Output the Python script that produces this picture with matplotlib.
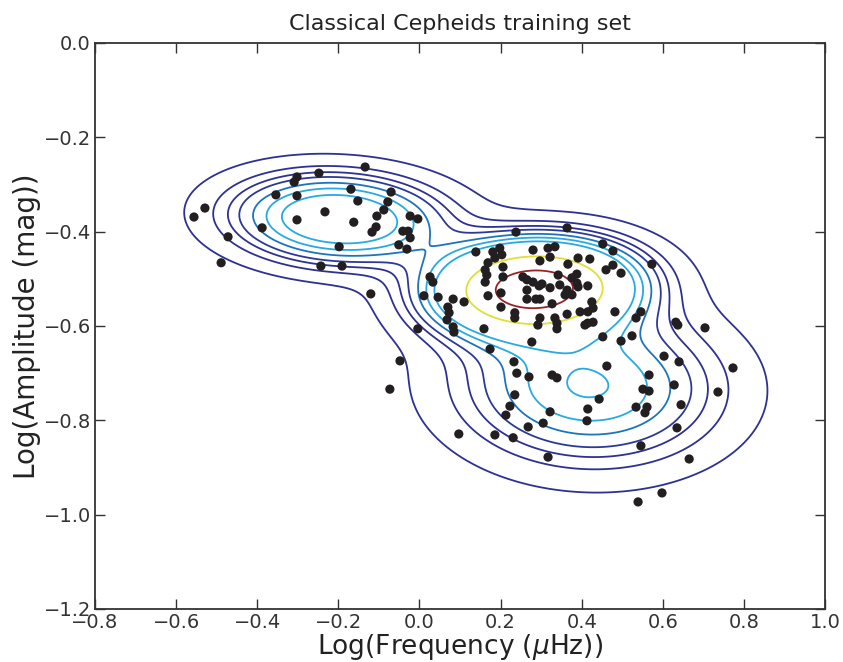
import numpy as np
import matplotlib
matplotlib.use("Agg")
import matplotlib.pyplot as plt

# Classical Cepheids training set
log_freq = [
    -0.134, -0.248, -0.302, -0.309, -0.354, -0.302, -0.169, -0.070, -0.152, -0.078,
    -0.088, -0.105, -0.023, -0.004, -0.233, -0.302, -0.162, -0.107, -0.117, -0.041,
    -0.028, -0.023, -0.051, -0.031, -0.529, -0.556, -0.388, -0.472, -0.198, -0.489,
    -0.243, -0.191, -0.120, -0.048, -0.073, -0.004, 0.026, 0.033, 0.011, 0.046,
    0.238, 0.364, 0.139, 0.181, 0.198, 0.203, 0.186, 0.169, 0.162, 0.166,
    0.162, 0.280, 0.317, 0.334, 0.322, 0.297, 0.206, 0.206, 0.366, 0.391,
    0.420, 0.452, 0.477, 0.477, 0.460, 0.497, 0.573, 0.255, 0.265, 0.280,
    0.302, 0.295, 0.265, 0.322, 0.342, 0.346, 0.364, 0.376, 0.388, 0.388,
    0.415, 0.391, 0.376, 0.359, 0.169, 0.201, 0.265, 0.287, 0.297, 0.110,
    0.327, 0.201, 0.083, 0.070, 0.073, 0.068, 0.083, 0.085, 0.235, 0.235,
    0.297, 0.292, 0.334, 0.339, 0.339, 0.364, 0.396, 0.425, 0.428, 0.415,
    0.415, 0.428, 0.408, 0.482, 0.159, 0.452, 0.277, 0.497, 0.524, 0.546,
    0.534, 0.632, 0.637, 0.704, 0.174,
    0.233, 0.240, 0.270, 0.327, 0.339, 0.462, 0.566, 0.551, 0.566, 0.443,
    0.235, 0.223, 0.415, 0.322, 0.213, 0.413, 0.305, 0.268, 0.186, 0.231,
    0.097, 0.534, 0.561, 0.556, 0.317, 0.546, 0.603, 0.640, 0.628, 0.645,
    0.635, 0.665, 0.773, 0.736, 0.539, 0.598,
]
log_amp = [
    -0.263, -0.276, -0.284, -0.295, -0.322, -0.324, -0.310, -0.316, -0.335, -0.337,
    -0.354, -0.367, -0.367, -0.373, -0.358, -0.375, -0.380, -0.390, -0.401, -0.399,
    -0.399, -0.413, -0.428, -0.437, -0.350, -0.369, -0.392, -0.411, -0.432, -0.466,
    -0.473, -0.473, -0.532, -0.674, -0.734, -0.606, -0.496, -0.507, -0.536, -0.539,
    -0.401, -0.392, -0.443, -0.443, -0.435, -0.449, -0.456, -0.466, -0.481, -0.492,
    -0.507, -0.439, -0.435, -0.432, -0.454, -0.462, -0.475, -0.496, -0.469, -0.456,
    -0.458, -0.426, -0.441, -0.471, -0.481, -0.488, -0.469, -0.496, -0.502, -0.507,
    -0.511, -0.515, -0.524, -0.519, -0.492, -0.513, -0.524, -0.498, -0.490, -0.509,
    -0.515, -0.517, -0.534, -0.534, -0.536, -0.530, -0.543, -0.543, -0.543, -0.549,
    -0.553, -0.560, -0.543, -0.560, -0.572, -0.587, -0.602, -0.613, -0.572, -0.583,
    -0.583, -0.598, -0.583, -0.594, -0.606, -0.575, -0.570, -0.549, -0.562, -0.570,
    -0.594, -0.592, -0.598, -0.570, -0.606, -0.623, -0.634, -0.632, -0.621, -0.570,
    -0.583, -0.592, -0.598, -0.604, -0.649,
    -0.676, -0.700, -0.708, -0.704, -0.710, -0.685, -0.704, -0.734, -0.738, -0.755,
    -0.746, -0.770, -0.776, -0.782, -0.789, -0.801, -0.806, -0.814, -0.831, -0.837,
    -0.829, -0.772, -0.772, -0.784, -0.878, -0.854, -0.664, -0.676, -0.725, -0.767,
    -0.816, -0.882, -0.689, -0.740, -0.973, -0.954,
]

x_ticks = [-0.8, -0.6, -0.4, -0.2, 0.0, 0.2, 0.4, 0.6, 0.8, 1.0]
y_ticks = [-1.2, -1.0, -0.8, -0.6, -0.4, -0.2, 0.0]

# mixture components: starting centres for the fit
start_means = [(-0.2, -0.37), (0.28, -0.52), (0.43, -0.72)]

# where each contour crosses the line log f = 0.27 above the main group
level_x = 0.27
level_y = [-0.353, -0.377, -0.388, -0.396, -0.405, -0.413, -0.421, -0.453, -0.483]
level_cols = ['#2e3192', '#2e3192', '#2e3192', '#2b3a98', '#1c75bc',
              '#27aae1', '#27aae1', '#dfe032', '#9b2224']


def gauss(pts, mu, cov):
    d = pts - mu
    inv = np.linalg.inv(cov)
    q = np.einsum('ij,jk,ik->i', d, inv, d)
    return np.exp(-0.5 * q) / (2 * np.pi * np.sqrt(np.linalg.det(cov)))


def gmm_fit(X, means0, n_iter=400):
    "Gaussian mixture by plain EM"
    K = len(means0)
    mu = np.array(means0, dtype=float)
    cov = np.array([np.diag([0.01, 0.003])] * K)
    w = np.ones(K) / K
    for _ in range(n_iter):
        p = np.stack([w[k] * gauss(X, mu[k], cov[k]) for k in range(K)], axis=1)
        r = p / p.sum(1, keepdims=True)
        nk = r.sum(0)
        w = nk / len(X)
        mu = (r.T @ X) / nk[:, None]
        for k in range(K):
            d = X - mu[k]
            cov[k] = (r[:, k, None] * d).T @ d / nk[k] + np.eye(2) * 1e-4
    return w, mu, cov


def density(pts, w, mu, cov):
    return sum(w[k] * gauss(pts, mu[k], cov[k]) for k in range(len(w)))


def fmt(t):
    return '%.1f' % t if t >= 0 else '\u2212%.1f' % -t


X = np.column_stack([log_freq, log_amp])
w, mu, cov = gmm_fit(X, start_means)

gx, gy = np.meshgrid(np.linspace(-0.8, 1.0, 360), np.linspace(-1.2, 0.0, 300))
z = density(np.column_stack([gx.ravel(), gy.ravel()]), w, mu, cov).reshape(gx.shape)
levels = density(np.column_stack([[level_x] * len(level_y), level_y]), w, mu, cov)
order = np.argsort(levels)
levels = levels[order]
cols = [level_cols[i] for i in order]

fig = plt.figure(figsize=(8.43, 6.62), dpi=100)
ax = fig.add_axes([0.1127, 0.0801, 0.8660, 0.8550])

ax.contour(gx, gy, z, levels=levels, colors=cols, linewidths=1.3)
ax.scatter(X[:, 0], X[:, 1], s=44, c='#231f20', edgecolors='none', zorder=3)

ax.set_xlim(-0.8, 1.0)
ax.set_ylim(-1.2, 0.0)
ax.set_xticks(x_ticks)
ax.set_yticks(y_ticks)
ax.set_xticklabels([fmt(t) for t in x_ticks])
ax.set_yticklabels([fmt(t) for t in y_ticks])
ax.tick_params(direction='in', top=True, right=True, length=7, width=1,
               labelsize=14, pad=3, colors='#333333')
for s in ax.spines.values():
    s.set_linewidth(1.3)
    s.set_color('#333333')

ax.set_title('Classical Cepheids training set', fontsize=16, color='#222222', pad=9)
ax.set_xlabel(r'Log(Frequency ($\mu$Hz))', fontsize=19, color='#222222', labelpad=0)
ax.set_ylabel('Log(Amplitude (mag))', fontsize=20, color='#222222', labelpad=2)

fig.savefig('out.png', dpi=100)
